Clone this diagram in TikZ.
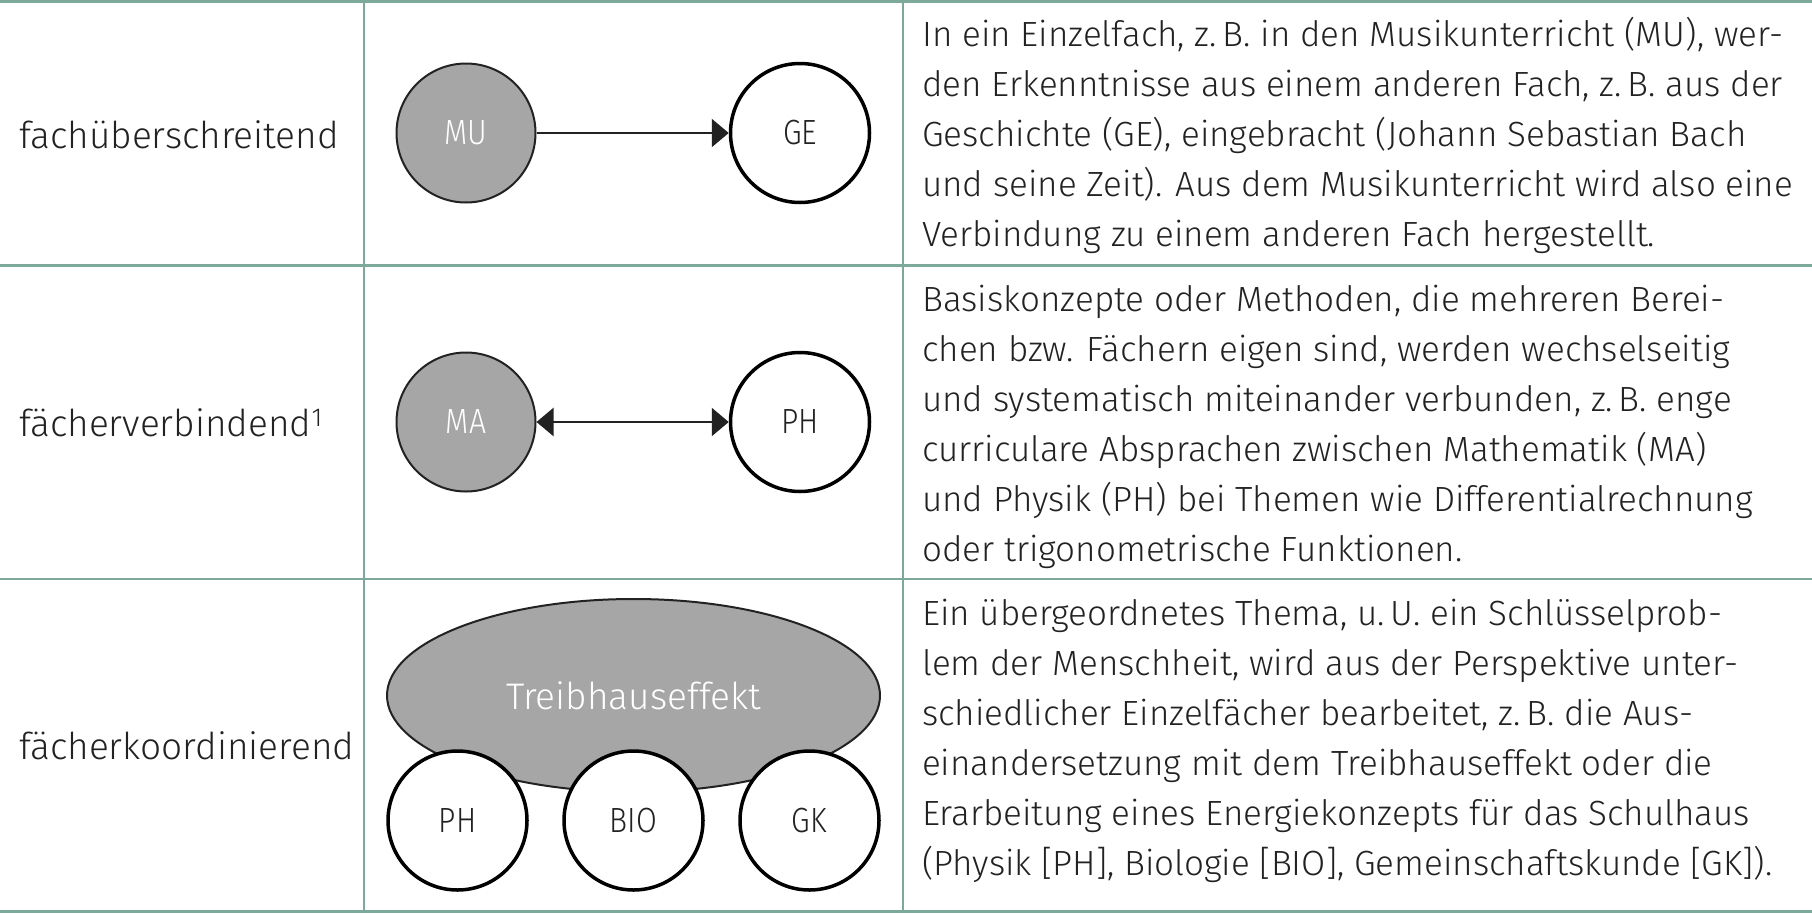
\documentclass[tikz,border=0pt]{standalone}
\usepackage{fontspec}
\IfFontExistsTF{Fira Sans Light}
  {\setmainfont{Fira Sans Light}\newfontfamily\labelfont{Fira Sans Light}[FakeStretch=0.86]}
  {\setmainfont{Fira Sans}\newfontfamily\labelfont{Fira Sans}[FakeStretch=0.86]}
\usetikzlibrary{arrows.meta,shapes.geometric}
\definecolor{rulec}{HTML}{7DA99A}
\definecolor{shade}{HTML}{A6A6A6}
\definecolor{ink}{HTML}{222222}
\begin{document}
\begin{tikzpicture}[x=1pt,y=-1pt,
  tline/.style={draw=rulec,line width=2.2pt},
  graycirc/.style={circle,draw=ink,line width=2pt,fill=shade,minimum size=139pt,inner sep=0pt,text=white,font=\labelfont\fontsize{35}{40}\selectfont},
  whitecirc/.style={circle,draw=black,line width=3.5pt,fill=white,minimum size=139pt,inner sep=0pt,text=ink,font=\labelfont\fontsize{35}{40}\selectfont},
  bigell/.style={ellipse,draw=ink,line width=2pt,fill=shade,minimum width=493pt,minimum height=193pt,inner sep=0pt,text=white,font=\fontsize{37}{40}\selectfont},
  body/.style={anchor=base west,inner sep=0pt,text=ink,font=\fontsize{35}{40}\selectfont},
  lefttext/.style={anchor=base west,inner sep=0pt,text=ink,font=\fontsize{37}{40}\selectfont},
  conn/.style={draw=ink,line width=2.3pt},
  tip/.tip={Triangle[length=17pt,width=28pt]}
]
\useasboundingbox (0,0) rectangle (1812,913);
% table rules
\draw[tline] (0,1.5) -- (1812,1.5);
\draw[tline] (0,265.5) -- (1812,265.5);
\draw[tline] (0,579) -- (1812,579);
\draw[tline] (0,911.5) -- (1812,911.5);
\draw[tline] (364,0) -- (364,913);
\draw[tline] (903,0) -- (903,913);

% left column
\node[lefttext] (lab1) at (19,148) {fachüberschreitend};
\node[lefttext] (lab2) at (19,436) {fächerverbindend\textsuperscript{1}};
\node[lefttext] (lab3) at (19,759) {fächerkoordinierend};

% row 1
\node[graycirc] (mu) at (466,133) {MU};
\node[whitecirc] (ge) at (800,133) {GE};
\draw[conn,-tip] (mu) -- (ge);

% row 2
\node[graycirc] (ma) at (466,422) {MA};
\node[whitecirc] (ph) at (800,422) {PH};
\draw[conn,tip-tip] (ma) -- (ph);

% row 3
\node[bigell] (tre) at (633.5,695.5) {\raisebox{-4pt}{Treibhauseffekt}};
\node[whitecirc] (ph3) at (457.5,820.5) {PH};
\node[whitecirc] (bio) at (633.5,820.5) {BIO};
\node[whitecirc] (gk) at (809.5,820.5) {GK};

% right column, row 1
\node[body] (a1) at (922,46) {In ein Einzelfach, z.\,B. in den Musikunterricht (MU), wer-};
\node[body] (a2) at (922,96.5) {den Erkenntnisse aus einem anderen Fach, z.\,B. aus der};
\node[body] (a3) at (922,146.5) {Geschichte (GE), eingebracht (Johann Sebastian Bach};
\node[body] (a4) at (922,196.5) {und seine Zeit). Aus dem Musikunterricht wird also eine};
\node[body] (a5) at (922,246.5) {Verbindung zu einem anderen Fach hergestellt.};

% right column, row 2
\node[body] (b1) at (922,311.5) {Basiskonzepte oder Methoden, die mehreren Berei-};
\node[body] (b2) at (922,361.5) {chen bzw. Fächern eigen sind, werden wechselseitig};
\node[body] (b3) at (922,411.5) {und systematisch miteinander verbunden, z.\,B. enge};
\node[body] (b4) at (922,461.5) {curriculare Absprachen zwischen Mathematik (MA)};
\node[body] (b5) at (922,511.5) {und Physik (PH) bei Themen wie Differentialrechnung};
\node[body] (b6) at (922,561.5) {oder trigonometrische Funktionen.};

% right column, row 3
\node[body] (c1) at (922,625) {Ein übergeordnetes Thema, u.\,U. ein Schlüsselprob-};
\node[body] (c2) at (922,675) {lem der Menschheit, wird aus der Perspektive unter-};
\node[body] (c3) at (922,725) {schiedlicher Einzelfächer bearbeitet, z.\,B. die Aus-};
\node[body] (c4) at (922,775) {einandersetzung mit dem Treibhauseffekt oder die};
\node[body] (c5) at (922,825) {Erarbeitung eines Energiekonzepts für das Schulhaus};
\node[body] (c6) at (922,875) {(Physik [PH], Biologie [BIO], Gemeinschaftskunde [GK]).};
\end{tikzpicture}
\end{document}
